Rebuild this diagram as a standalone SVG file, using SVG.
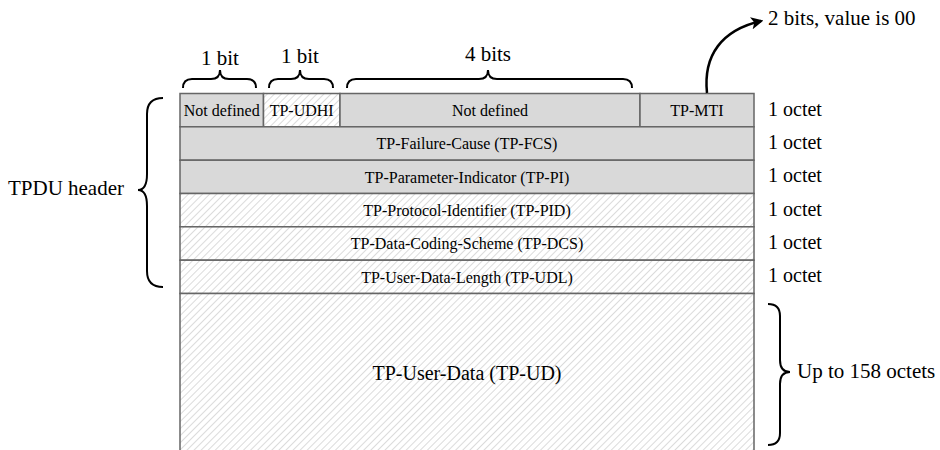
<svg xmlns="http://www.w3.org/2000/svg" width="940" height="450" viewBox="0 0 940 450" font-family="'Liberation Serif', 'Times New Roman', serif">
  <defs>
    <pattern id="hatch" patternUnits="userSpaceOnUse" width="5" height="5" patternTransform="rotate(45)">
      <rect width="5" height="5" fill="#ffffff"/>
      <line x1="0" y1="0" x2="0" y2="5" stroke="#b8b8b8" stroke-width="1"/>
    </pattern>
    <marker id="arrow" viewBox="0 0 10 10" refX="8" refY="5" markerWidth="5" markerHeight="5" orient="auto" markerUnits="strokeWidth">
      <path d="M0,0 L10,5 L0,10 L2.5,5 Z" fill="#000"/>
    </marker>
  </defs>
  <style>
    text { font-family: 'Liberation Serif', 'Times New Roman', serif; fill: #000; }
    .cell { stroke: #666; stroke-width: 1.5; }
    .gray { fill: #d9d9d9; }
    .hatch { fill: url(#hatch); }
    .small { font-size: 16px; text-anchor: middle; }
    .label { font-size: 21px; }
    .octet { font-size: 20px; }
    .brace { fill: none; stroke: #000; stroke-width: 2; }
  </style>

  <rect width="940" height="450" fill="#ffffff"/>

  <!-- first octet: bit fields -->
  <g id="octet1">
    <rect class="cell gray" x="180" y="93.5" width="83.5" height="33.3"/>
    <rect class="cell hatch" x="263.5" y="93.5" width="76.5" height="33.3"/>
    <rect class="cell gray" x="340" y="93.5" width="300" height="33.3"/>
    <rect class="cell gray" x="640" y="93.5" width="114" height="33.3"/>
    <text class="small" x="221.7" y="115.8">Not defined</text>
    <text class="small" x="301.7" y="115.8">TP-UDHI</text>
    <text class="small" x="490" y="115.8">Not defined</text>
    <text class="small" x="697" y="115.8">TP-MTI</text>
  </g>

  <g id="fcs">
    <rect class="cell gray" x="180" y="126.8" width="574" height="33.4"/>
    <text class="small" x="467" y="149.2">TP-Failure-Cause (TP-FCS)</text>
  </g>
  <g id="pi">
    <rect class="cell gray" x="180" y="160.2" width="574" height="33.3"/>
    <text class="small" x="467" y="182.5">TP-Parameter-Indicator (TP-PI)</text>
  </g>
  <g id="pid">
    <rect class="cell hatch" x="180" y="193.5" width="574" height="33.3"/>
    <text class="small" x="467" y="215.8">TP-Protocol-Identifier (TP-PID)</text>
  </g>
  <g id="dcs">
    <rect class="cell hatch" x="180" y="226.8" width="574" height="33.4"/>
    <text class="small" x="467" y="249.2">TP-Data-Coding-Scheme (TP-DCS)</text>
  </g>
  <g id="udl">
    <rect class="cell hatch" x="180" y="260.2" width="574" height="33.3"/>
    <text class="small" x="467" y="282.5">TP-User-Data-Length (TP-UDL)</text>
  </g>
  <g id="ud">
    <rect class="hatch" x="180" y="293.5" width="574" height="160"/>
    <path class="cell" fill="none" d="M180,452 L180,293.5 L754,293.5 L754,452"/>
    <text x="467" y="380" font-size="20" text-anchor="middle">TP-User-Data (TP-UD)</text>
  </g>

  <!-- octet sizes -->
  <g id="sizes" class="octet">
    <text x="768" y="115.5">1 octet</text>
    <text x="768" y="149">1 octet</text>
    <text x="768" y="182.3">1 octet</text>
    <text x="768" y="215.6">1 octet</text>
    <text x="768" y="249">1 octet</text>
    <text x="768" y="282.3">1 octet</text>
  </g>

  <!-- bit-width braces -->
  <g id="bit-braces">
    <path class="brace" d="M183,88 Q183,79 192,79 L211,79 Q220,79 220,70 Q220,79 229,79 L247,79 Q256,79 256,88"/>
    <path class="brace" d="M269,88 Q269,79 278,79 L291,79 Q300,79 300,70 Q300,79 309,79 L324,79 Q333,79 333,88"/>
    <path class="brace" d="M347,88 Q347,79 356,79 L479,79 Q488,79 488,70 Q488,79 497,79 L623,79 Q632,79 632,88"/>
    <text class="label" x="220" y="64.5" text-anchor="middle">1 bit</text>
    <text class="label" x="300" y="63" text-anchor="middle">1 bit</text>
    <text class="label" x="488" y="61" text-anchor="middle">4 bits</text>
  </g>

  <!-- header brace -->
  <g id="header-brace">
    <path class="brace" d="M163,98 Q147,98 147,114 L147,174 Q147,190 138,190 Q147,190 147,206 L147,271 Q147,287 163,287"/>
    <text class="label" x="124" y="195" text-anchor="end">TPDU header</text>
  </g>

  <!-- user data brace -->
  <g id="data-brace">
    <path class="brace" d="M768,304 Q780,304 780,316 L780,360 Q780,372 790,372 Q780,372 780,384 L780,433 Q780,445 768,445"/>
    <text class="label" x="797" y="377.5">Up to 158 octets</text>
  </g>

  <!-- TP-MTI note -->
  <g id="connectors">
    <path d="M707,93 C703,55 722,30 761,21" fill="none" stroke="#000" stroke-width="2.5" marker-end="url(#arrow)"/>
  </g>
  <g id="mti-note">
    <text class="label" x="768" y="25">2 bits, value is 00</text>
  </g>
</svg>
